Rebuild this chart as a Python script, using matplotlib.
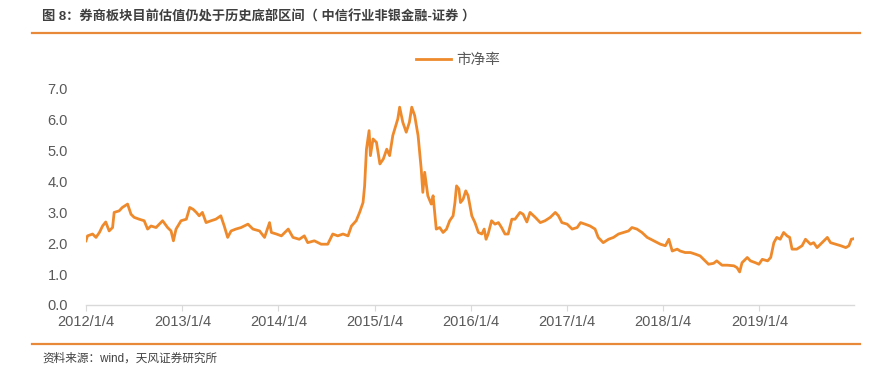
import matplotlib
matplotlib.use("Agg")
import matplotlib.pyplot as plt
from matplotlib.lines import Line2D
import pandas as pd

plt.rcParams['font.family'] = ['Liberation Sans', 'Noto Sans CJK SC', 'DejaVu Sans']

# 市净率 (PB)
dates = [
    "2012-01-04", "2012-01-10", "2012-01-29", "2012-02-11", "2012-02-24", "2012-03-07",
    "2012-03-19", "2012-04-01", "2012-04-14", "2012-04-20", "2012-05-09", "2012-05-21",
    "2012-06-10", "2012-06-23", "2012-07-05", "2012-07-24", "2012-08-12", "2012-08-25",
    "2012-09-07", "2012-09-26", "2012-10-21", "2012-11-09", "2012-11-22", "2012-12-01",
    "2012-12-11", "2012-12-30", "2013-01-19", "2013-02-01", "2013-02-14", "2013-02-26",
    "2013-03-09", "2013-03-21", "2013-04-04", "2013-04-23", "2013-05-11", "2013-05-30",
    "2013-06-12", "2013-06-25", "2013-07-08", "2013-07-26", "2013-08-15", "2013-09-10",
    "2013-09-29", "2013-10-24", "2013-11-12", "2013-12-01", "2013-12-08", "2013-12-27",
    "2014-01-15", "2014-02-10", "2014-02-28", "2014-03-24", "2014-04-12", "2014-04-25",
    "2014-05-20", "2014-06-15", "2014-07-10", "2014-07-29", "2014-08-17", "2014-09-06",
    "2014-09-25", "2014-10-08", "2014-10-26", "2014-11-08", "2014-11-21", "2014-11-27",
    "2014-12-04", "2014-12-14", "2014-12-19", "2014-12-29", "2015-01-11", "2015-01-24",
    "2015-02-06", "2015-02-19", "2015-03-02", "2015-03-14", "2015-04-02", "2015-04-09",
    "2015-04-21", "2015-05-04", "2015-05-16", "2015-05-25", "2015-06-05", "2015-06-18",
    "2015-06-30", "2015-07-06", "2015-07-13", "2015-07-25", "2015-08-07", "2015-08-14",
    "2015-08-26", "2015-09-08", "2015-09-21", "2015-10-04", "2015-10-16", "2015-10-29",
    "2015-11-05", "2015-11-11", "2015-11-20", "2015-11-26", "2015-12-06", "2015-12-16",
    "2015-12-25", "2016-01-08", "2016-01-20", "2016-02-02", "2016-02-15", "2016-02-24",
    "2016-03-02", "2016-03-10", "2016-03-23", "2016-04-05", "2016-04-18", "2016-04-30",
    "2016-05-13", "2016-05-25", "2016-06-08", "2016-06-20", "2016-07-09", "2016-07-21",
    "2016-08-04", "2016-08-16", "2016-09-05", "2016-09-24", "2016-10-12", "2016-11-01",
    "2016-11-20", "2016-12-02", "2016-12-15", "2017-01-04", "2017-01-23", "2017-02-11",
    "2017-02-24", "2017-03-13", "2017-04-01", "2017-04-20", "2017-05-02", "2017-05-21",
    "2017-06-10", "2017-06-29", "2017-07-18", "2017-08-06", "2017-08-25", "2017-09-07",
    "2017-09-26", "2017-10-15", "2017-11-04", "2017-11-29", "2017-12-24", "2018-01-12",
    "2018-01-25", "2018-02-07", "2018-02-26", "2018-03-09", "2018-03-28", "2018-04-17",
    "2018-05-05", "2018-05-24", "2018-06-06", "2018-06-25", "2018-07-14", "2018-07-26",
    "2018-08-15", "2018-09-04", "2018-09-29", "2018-10-11", "2018-10-21", "2018-10-30",
    "2018-11-19", "2018-12-01", "2018-12-20", "2019-01-02", "2019-01-15", "2019-02-04",
    "2019-02-16", "2019-02-28", "2019-03-11", "2019-03-24", "2019-04-06", "2019-04-19",
    "2019-04-29", "2019-05-08", "2019-05-26", "2019-06-15", "2019-06-28", "2019-07-17",
    "2019-07-29", "2019-08-11", "2019-08-24", "2019-09-06", "2019-09-19", "2019-10-01",
    "2019-10-20", "2019-11-09", "2019-11-28", "2019-12-10", "2019-12-19", "2019-12-29",
]
pb = [
    2.08, 2.24, 2.30, 2.19, 2.35, 2.56,
    2.69, 2.40, 2.51, 3.00, 3.05, 3.16,
    3.27, 2.94, 2.84, 2.78, 2.73, 2.46,
    2.56, 2.51, 2.73, 2.51, 2.40, 2.08,
    2.46, 2.73, 2.78, 3.16, 3.10, 3.00,
    2.89, 3.00, 2.67, 2.73, 2.78, 2.89,
    2.56, 2.19, 2.40, 2.46, 2.51, 2.62,
    2.46, 2.40, 2.19, 2.67, 2.35, 2.30,
    2.24, 2.46, 2.19, 2.13, 2.24, 2.02,
    2.08, 1.97, 1.97, 2.30, 2.24, 2.30,
    2.24, 2.56, 2.73, 3.00, 3.32, 3.86,
    5.05, 5.65, 4.84, 5.38, 5.27, 4.57,
    4.73, 5.05, 4.84, 5.49, 6.03, 6.41,
    5.92, 5.60, 5.92, 6.41, 6.14, 5.49,
    4.40, 3.65, 4.30, 3.54, 3.27, 3.54,
    2.46, 2.51, 2.35, 2.46, 2.73, 2.89,
    3.32, 3.86, 3.76, 3.32, 3.43, 3.70,
    3.54, 2.89, 2.67, 2.35, 2.30, 2.46,
    2.13, 2.30, 2.73, 2.62, 2.67, 2.51,
    2.30, 2.30, 2.78, 2.78, 3.00, 2.94,
    2.69, 3.00, 2.84, 2.67, 2.73, 2.84,
    3.00, 2.89, 2.67, 2.62, 2.46, 2.51,
    2.67, 2.62, 2.56, 2.46, 2.19, 2.02,
    2.13, 2.19, 2.30, 2.35, 2.40, 2.51,
    2.46, 2.35, 2.19, 2.08, 1.97, 1.92,
    2.13, 1.75, 1.81, 1.75, 1.70, 1.70,
    1.65, 1.59, 1.48, 1.32, 1.35, 1.43,
    1.29, 1.29, 1.27, 1.21, 1.07, 1.37,
    1.54, 1.43, 1.37, 1.32, 1.48, 1.43,
    1.54, 2.02, 2.19, 2.13, 2.35, 2.24,
    2.19, 1.81, 1.81, 1.92, 2.13, 1.97,
    2.02, 1.86, 1.97, 2.08, 2.19, 2.02,
    1.97, 1.92, 1.86, 1.92, 2.13, 2.15,
]
tick_dates = ["2012-01-04", "2013-01-04", "2014-01-04", "2015-01-04",
              "2016-01-04", "2017-01-04", "2018-01-04", "2019-01-04"]
tick_labels = ["2012/1/4", "2013/1/4", "2014/1/4", "2015/1/4",
               "2016/1/4", "2017/1/4", "2018/1/4", "2019/1/4"]

title = "图 8：券商板块目前估值仍处于历史底部区间（ 中信行业非银金融-证券 ）"
source = "资料来源：wind，天风证券研究所"

orange = '#EE8A2C'
text_grey = '#595959'

df = pd.DataFrame({'date': pd.to_datetime(dates), 'pb': pb})

fig = plt.figure(figsize=(8.8, 3.77), dpi=100)
ax = fig.add_axes([0.0977, 0.191, 0.8727, 0.573])

ax.plot(df['date'], df['pb'], color=orange, linewidth=2.0, label='市净率')

ax.set_xlim(df['date'].iloc[0], df['date'].iloc[-1])
ax.set_ylim(0, 7)
ax.set_yticks(range(0, 8))
ax.yaxis.set_major_formatter(plt.FuncFormatter(lambda v, p: f"{v:.1f}"))
ax.set_xticks(pd.to_datetime(tick_dates))
ax.set_xticklabels(tick_labels)

for side in ['top', 'right', 'left']:
    ax.spines[side].set_visible(False)
ax.spines['bottom'].set_color('#D9D9D9')
ax.spines['bottom'].set_linewidth(1.0)
ax.tick_params(axis='y', length=0, pad=13, labelsize=10.5, labelcolor=text_grey)
ax.tick_params(axis='x', length=4, color='#D9D9D9', pad=3, labelsize=10.5, labelcolor=text_grey)

fig.legend(loc='center', bbox_to_anchor=(458 / 880, 1 - 60 / 377), frameon=False,
           fontsize=10.5, handlelength=2.4, handletextpad=0.3, labelcolor=text_grey)

# header and footer
fig.text(42 / 880, 1 - 17 / 377, title, fontsize=9.5, fontweight='bold', color='#3F3F3F',
         ha='left', va='center')
fig.add_artist(Line2D([32 / 880, 860 / 880], [1 - 33 / 377, 1 - 33 / 377],
                      color='#E8893A', linewidth=1.6))
fig.add_artist(Line2D([32 / 880, 860 / 880], [1 - 344 / 377, 1 - 344 / 377],
                      color='#E8893A', linewidth=1.6))
fig.text(42 / 880, 1 - 359 / 377, source, fontsize=8.4, color='#404040', ha='left', va='center')

fig.savefig('out.png', dpi=100)
